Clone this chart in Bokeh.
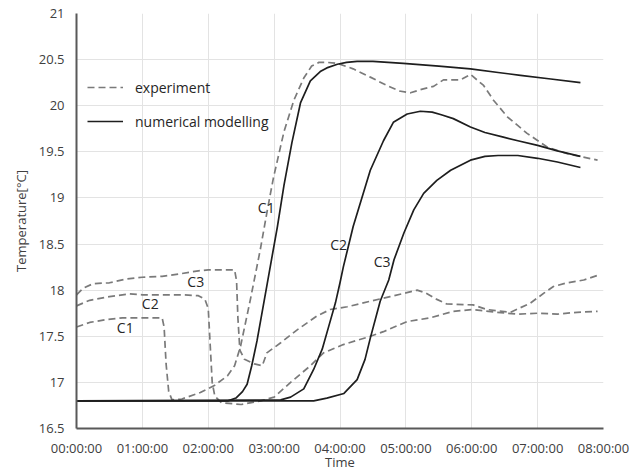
from bokeh.plotting import figure
from bokeh.models import FixedTicker, Range1d, Legend, LegendItem, Label
from bokeh.embed import file_html
from bokeh.resources import INLINE

# ---- data (hours, °C) ----
exp_c1_t = [0.0, 0.2, 0.45, 0.7, 1.0, 1.3, 1.33, 1.36, 1.40, 1.45, 1.6, 1.88, 2.1, 2.29, 2.4, 2.49,
            2.64, 2.79, 2.9, 2.99, 3.15, 3.3, 3.45, 3.57, 3.68, 3.8, 3.96, 4.2, 4.46, 4.71, 4.9,
            5.07, 5.25, 5.42, 5.57, 5.83, 5.98, 6.08, 6.18, 6.33, 6.54, 6.84, 7.15, 7.45, 7.65, 7.91]
exp_c1_v = [17.60, 17.65, 17.68, 17.70, 17.70, 17.70, 17.60, 17.20, 16.90, 16.81, 16.82, 16.89, 16.97,
            17.07, 17.18, 17.39, 17.90, 18.44, 18.88, 19.22, 19.72, 20.06, 20.30, 20.43, 20.47, 20.47,
            20.46, 20.40, 20.31, 20.22, 20.16, 20.14, 20.18, 20.21, 20.28, 20.28, 20.34, 20.28, 20.22,
            20.06, 19.88, 19.70, 19.55, 19.48, 19.45, 19.41]

exp_c2_t = [0.0, 0.2, 0.5, 0.8, 1.0, 1.3, 1.6, 1.85, 1.95, 2.0, 2.03, 2.06, 2.1, 2.2, 2.5, 2.8, 3.0,
            3.25, 3.55, 3.75, 4.05, 4.46, 4.66, 5.02, 5.37, 5.72, 6.02, 6.38, 6.7, 7.0, 7.3, 7.6, 7.91]
exp_c2_v = [17.83, 17.89, 17.93, 17.96, 17.95, 17.95, 17.95, 17.94, 17.90, 17.80, 17.40, 17.00, 16.85,
            16.78, 16.76, 16.80, 16.84, 17.00, 17.18, 17.32, 17.41, 17.50, 17.55, 17.66, 17.70, 17.77,
            17.79, 17.76, 17.74, 17.75, 17.74, 17.76, 17.77]

exp_c3_t = [0.0, 0.1, 0.25, 0.5, 0.75, 1.0, 1.3, 1.6, 1.85, 2.0, 2.4, 2.43, 2.45, 2.48, 2.55, 2.7,
            2.82, 2.89, 3.1, 3.35, 3.65, 3.85, 4.11, 4.46, 4.76, 5.0, 5.17, 5.3, 5.47, 5.62, 6.02,
            6.23, 6.59, 6.89, 7.1, 7.24, 7.45, 7.7, 7.91]
exp_c3_v = [17.95, 18.02, 18.07, 18.08, 18.12, 18.14, 18.15, 18.18, 18.21, 18.22, 18.22, 18.10, 17.70,
            17.35, 17.25, 17.20, 17.18, 17.32, 17.43, 17.57, 17.72, 17.79, 17.82, 17.88, 17.93, 17.97,
            18.00, 17.97, 17.90, 17.85, 17.84, 17.79, 17.76, 17.86, 17.97, 18.04, 18.08, 18.11, 18.16]

mod_c1_t = [0.0, 2.3, 2.42, 2.52, 2.59, 2.66, 2.74, 2.89, 3.05, 3.15, 3.27, 3.4, 3.55, 3.7, 3.8, 3.96,
            4.1, 4.26, 4.5, 4.96, 5.5, 5.98, 6.4, 6.74, 7.2, 7.65]
mod_c1_v = [16.80, 16.80, 16.83, 16.90, 16.98, 17.18, 17.45, 18.05, 18.69, 19.14, 19.60, 20.03, 20.27,
            20.37, 20.41, 20.45, 20.47, 20.48, 20.48, 20.46, 20.43, 20.40, 20.36, 20.33, 20.29, 20.25]

mod_c2_t = [0.0, 3.1, 3.25, 3.45, 3.6, 3.73, 3.83, 3.93, 4.0, 4.05, 4.2, 4.46, 4.66, 4.81, 5.02, 5.22,
            5.4, 5.55, 5.72, 5.98, 6.2, 6.48, 6.7, 7.0, 7.3, 7.65]
mod_c2_v = [16.80, 16.81, 16.84, 16.93, 17.14, 17.36, 17.61, 17.86, 18.08, 18.25, 18.69, 19.30, 19.62,
            19.82, 19.91, 19.94, 19.93, 19.90, 19.86, 19.77, 19.71, 19.66, 19.62, 19.57, 19.51, 19.45]

mod_c3_t = [0.0, 3.6, 3.8, 4.06, 4.26, 4.38, 4.46, 4.61, 4.74, 4.82, 4.97, 5.12, 5.27, 5.47, 5.68,
            5.98, 6.2, 6.4, 6.7, 7.0, 7.3, 7.65]
mod_c3_v = [16.80, 16.80, 16.83, 16.88, 17.03, 17.25, 17.48, 17.88, 18.11, 18.33, 18.62, 18.87, 19.05,
            19.19, 19.30, 19.41, 19.45, 19.46, 19.46, 19.43, 19.39, 19.33]

x_ticks = [0, 1, 2, 3, 4, 5, 6, 7, 8]
x_tick_labels = ["00:00:00", "01:00:00", "02:00:00", "03:00:00", "04:00:00",
                 "05:00:00", "06:00:00", "07:00:00", "08:00:00"]
y_ticks = [16.5, 17, 17.5, 18, 18.5, 19, 19.5, 20, 20.5, 21]
y_tick_labels = ["16.5", "17", "17.5", "18", "18.5", "19", "19.5", "20", "20.5", "21"]

# labels: (text, x hours, y °C)
exp_labels = [("C1", 0.74, 17.60), ("C2", 1.12, 17.86), ("C3", 1.81, 18.09)]
mod_labels = [("C1", 2.88, 18.90), ("C2", 3.98, 18.49), ("C3", 4.64, 18.31)]

FONT = "Open Sans"
TXT = "#404040"
EXP_COLOR = "#7a7a7a"
MOD_COLOR = "#1e1e1e"

p = figure(width=642, height=473, output_backend="svg", toolbar_location=None,
           x_range=Range1d(0, 8), y_range=Range1d(16.5, 21),
           min_border_left=76, min_border_right=39, min_border_top=13, min_border_bottom=44)
p.outline_line_color = None
p.background_fill_color = "white"

for ax in (p.xaxis[0], p.yaxis[0]):
    ax.major_tick_line_color = None
    ax.minor_tick_line_color = None
    ax.major_tick_in = 0
    ax.major_tick_out = 0
    ax.minor_tick_in = 0
    ax.minor_tick_out = 0
    ax.axis_line_color = "#595959"
    ax.axis_line_width = 2
    ax.major_label_text_font = FONT
    ax.major_label_text_font_size = "13px"
    ax.major_label_text_color = TXT
    ax.axis_label_text_font = FONT
    ax.axis_label_text_font_size = "13px"
    ax.axis_label_text_font_style = "normal"
    ax.axis_label_text_color = TXT

p.xaxis.ticker = FixedTicker(ticks=x_ticks)
p.xaxis.major_label_overrides = {t: l for t, l in zip(x_ticks, x_tick_labels)}
p.yaxis.ticker = FixedTicker(ticks=y_ticks)
p.yaxis.major_label_overrides = {t: l for t, l in zip(y_ticks, y_tick_labels)}
p.xaxis.major_label_standoff = 10
p.yaxis.major_label_standoff = 12
p.xaxis.axis_label = "Time"
p.xaxis.axis_label_standoff = -7
p.yaxis.axis_label = "Temperature[°C]"
p.yaxis.axis_label_standoff = 6

p.xgrid.grid_line_color = "#e3e3e3"
p.ygrid.grid_line_color = "#e3e3e3"
p.xgrid.grid_line_width = 1
p.ygrid.grid_line_width = 1

exp_kw = dict(line_color=EXP_COLOR, line_width=1.7, line_dash="7 4", line_join="round")
mod_kw = dict(line_color=MOD_COLOR, line_width=1.7, line_join="round")

r_e1 = p.line(exp_c1_t, exp_c1_v, **exp_kw)
p.line(exp_c2_t, exp_c2_v, **exp_kw)
p.line(exp_c3_t, exp_c3_v, **exp_kw)
r_m1 = p.line(mod_c1_t, mod_c1_v, **mod_kw)
p.line(mod_c2_t, mod_c2_v, **mod_kw)
p.line(mod_c3_t, mod_c3_v, **mod_kw)

for txt, lx, ly in exp_labels + mod_labels:
    p.add_layout(Label(x=lx, y=ly, text=txt, text_font=FONT, text_font_size="14px",
                       text_color="#262626", text_align="center", text_baseline="middle"))

legend = Legend(items=[LegendItem(label="experiment", renderers=[r_e1]),
                       LegendItem(label="numerical modelling", renderers=[r_m1])],
                location=(11, 297), orientation="vertical")
legend.border_line_color = None
legend.background_fill_alpha = 0
legend.padding = 0
legend.margin = 0
legend.spacing = 14
legend.glyph_width = 36
legend.glyph_height = 20
legend.label_standoff = 12
legend.label_text_font = FONT
legend.label_text_font_size = "14px"
legend.label_text_color = "#262626"
p.add_layout(legend)

open("out.html", "w").write(file_html(p, INLINE))
